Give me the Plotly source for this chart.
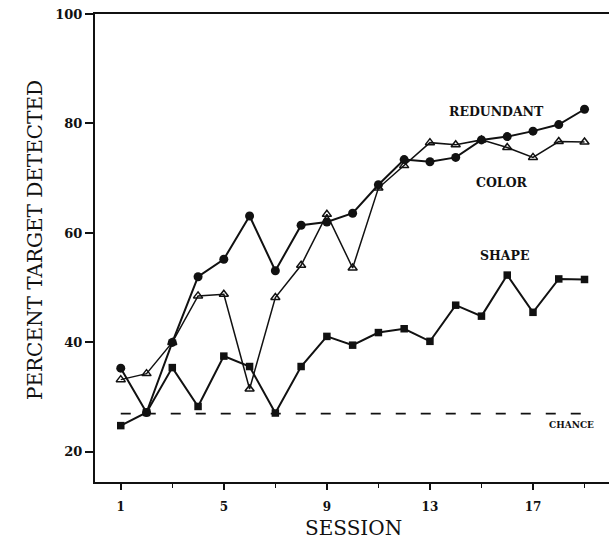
import plotly.graph_objects as go

sessions = list(range(1, 20))
redundant = [35.3, 27.2, 40.0, 52.0, 55.2, 63.1, 53.1, 61.4, 62.0, 63.6, 68.8, 73.4, 73.0, 73.8, 77.0, 77.6, 78.6, 79.8, 82.6]
color = [33.2, 34.3, 40.0, 48.5, 48.8, 31.5, 48.2, 54.1, 63.4, 53.6, 68.2, 72.3, 76.5, 76.1, 77.0, 75.6, 73.8, 76.7, 76.6]
shape = [24.8, 27.2, 35.4, 28.3, 37.5, 35.6, 27.1, 35.6, 41.1, 39.5, 41.8, 42.5, 40.2, 46.8, 44.8, 52.3, 45.5, 51.6, 51.5]
chance_level = 27.0
x_ticks = [1, 5, 9, 13, 17]
y_ticks = [20, 40, 60, 80, 100]

INK = "#111111"
W, H = 609, 554
L, T, B = 95, 14, 72
PW, PH = W - L, H - T - B

fig = go.Figure()

fig.add_trace(go.Scatter(x=[1, 19], y=[chance_level, chance_level], mode="lines",
                         line=dict(color=INK, width=1.6, dash="10px,15px"), hoverinfo="skip"))
fig.add_trace(go.Scatter(x=sessions, y=shape, mode="lines+markers",
                         line=dict(color=INK, width=2),
                         marker=dict(symbol="square", size=7.5, color=INK)))
fig.add_trace(go.Scatter(x=sessions, y=color, mode="lines+markers",
                         line=dict(color=INK, width=1.5),
                         marker=dict(symbol="triangle-up-open", size=8, color=INK, line=dict(width=1.5, color=INK))))
fig.add_trace(go.Scatter(x=sessions, y=redundant, mode="lines+markers",
                         line=dict(color=INK, width=2),
                         marker=dict(symbol="circle", size=9, color=INK)))

lab_font = dict(family="DejaVu Serif", size=12.5, color=INK, weight="bold")
fig.add_annotation(x=15.6, y=82.2, text="REDUNDANT", showarrow=False, font=lab_font)
fig.add_annotation(x=15.8, y=69.2, text="COLOR", showarrow=False, font=lab_font)
fig.add_annotation(x=15.9, y=55.8, text="SHAPE", showarrow=False, font=lab_font)
fig.add_annotation(x=18.5, y=25.0, text="CHANCE", showarrow=False,
                   font=dict(family="DejaVu Serif", size=9, color=INK, weight="bold"))

fig.add_annotation(xref="paper", yref="paper", x=(21 - L) / PW, y=(482 - 240) / PH,
                   text="PERCENT TARGET DETECTED", textangle=-90, showarrow=False,
                   font=dict(family="DejaVu Serif", size=20, color=INK))
fig.add_annotation(xref="paper", yref="paper", x=(353 - L) / PW, y=-(542 - 482) / PH,
                   text="SESSION", showarrow=False,
                   font=dict(family="DejaVu Serif", size=20, color=INK))

fig.update_layout(
    width=W, height=H,
    margin=dict(l=L, r=0, t=T, b=B),
    paper_bgcolor="white", plot_bgcolor="white",
    showlegend=False,
    xaxis=dict(range=[0, 19.95], tickvals=x_ticks, ticktext=[str(v) for v in x_ticks],
               showgrid=False, zeroline=False, showline=True, linecolor=INK, linewidth=2,
               mirror=True, ticks="outside", ticklen=6, tickwidth=1.5, tickcolor=INK,
               ticklabelstandoff=7,
               tickfont=dict(family="DejaVu Serif", size=12, color=INK, weight="bold"),
               minor=dict(tick0=1, dtick=2, ticks="outside", ticklen=4, tickwidth=1.2, tickcolor=INK)),
    yaxis=dict(range=[14.5, 100], tickvals=y_ticks, ticktext=[str(v) for v in y_ticks],
               showgrid=False, zeroline=False, showline=True, linecolor=INK, linewidth=2,
               ticks="outside", ticklen=8, tickwidth=1.5, tickcolor=INK,
               tickfont=dict(family="DejaVu Serif", size=13, color=INK, weight="bold")),
)

fig.write_html("out.html", config={"displayModeBar": False},
               post_script="document.body.style.margin='0';document.body.style.overflow='hidden';")
